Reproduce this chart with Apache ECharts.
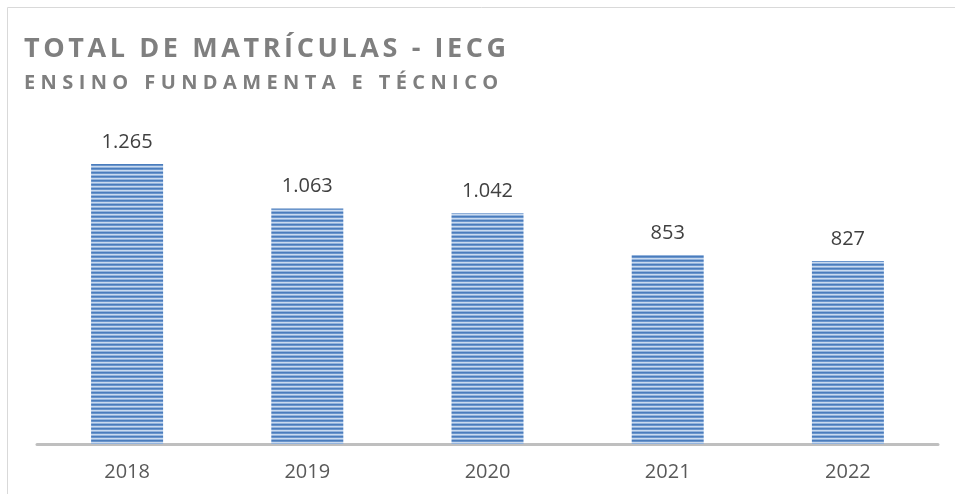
<!DOCTYPE html>
<html>
<head>
<meta charset="utf-8">
<script src="https://cdn.jsdelivr.net/npm/echarts@6/dist/echarts.min.js"></script>
<style>
    html,body{margin:0;padding:0;background:#fff;}
    #wrap{position:relative;width:955px;height:494px;overflow:hidden;}
    #chart{position:absolute;left:0;top:0;width:955px;height:494px;}
    .tt{position:absolute;left:24px;font-family:"Open Sans",sans-serif;font-weight:700;color:#7f7f7f;white-space:nowrap;}
    #t1{top:34px;font-size:27px;line-height:26px;letter-spacing:3.6px;}
    #t2{top:72px;font-size:20px;line-height:20px;letter-spacing:5.4px;}
</style>
</head>
<body>
<div id="wrap">
    <div id="chart"></div>
    <div class="tt" id="t1">TOTAL DE MATRÍCULAS - IECG</div>
    <div class="tt" id="t2">ENSINO FUNDAMENTA E TÉCNICO</div>
</div>
<script>
// 年份
var years = ['2018', '2019', '2020', '2021', '2022'];
// matrículas
var totals = [1265, 1063, 1042, 853, 827];

// 条纹填充
function stripes(){
    var c = document.createElement('canvas');
    c.width = 4; c.height = 4;
    var ctx = c.getContext('2d');
    var rows = ['#4a7cbc', '#6a95cc', '#c9daef', '#93b3dc'];
    for (var i = 0; i < rows.length; i++) {
        ctx.fillStyle = rows[i];
        ctx.fillRect(0, i, 4, 1);
    }
    return c;
}

var myChart = echarts.init(document.getElementById('chart'));
var option = {
    animation: false,
    graphic: [{
        type: 'rect',
        shape: {x: 7.5, y: 7.5, width: 1000, height: 600},
        style: {fill: 'none', stroke: '#d9d9d9', lineWidth: 1},
        silent: true
    }],
    grid: {left: 37, right: 17, top: 134, bottom: 50},
    xAxis: {
        type: 'category',
        data: years,
        axisLine: {lineStyle: {color: '#bfbfbf', width: 3}},
        axisTick: {show: false},
        axisLabel: {
            color: '#595959',
            fontSize: 20,
            fontFamily: 'Open Sans',
            margin: 18
        }
    },
    yAxis: {
        type: 'value',
        min: 0,
        max: 1400,
        show: false,
        splitLine: {show: false}
    },
    series: [{
        type: 'bar',
        data: totals,
        barWidth: 72,
        itemStyle: {
            color: {image: stripes(), repeat: 'repeat'}
        },
        label: {
            show: true,
            position: 'top',
            distance: 12,
            color: '#404040',
            fontSize: 20,
            fontFamily: 'Open Sans',
            formatter: function (p) {
                return p.value.toLocaleString('pt-BR');
            }
        }
    }]
};
myChart.setOption(option);
</script>
</body>
</html>
